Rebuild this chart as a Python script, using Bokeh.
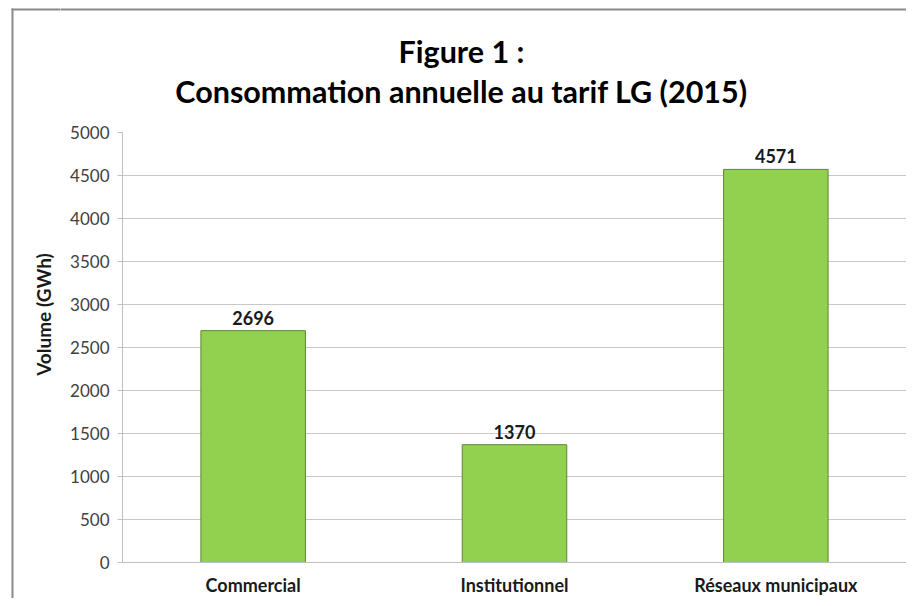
import math
from bokeh.plotting import figure
from bokeh.layouts import row, column
from bokeh.models import ColumnDataSource, Range1d, FactorRange
from bokeh.core.properties import value
from bokeh.embed import file_html
from bokeh.resources import INLINE

categories = ["Commercial", "Institutionnel", "Réseaux municipaux"]
volumes = [2696, 1370, 4571]
y_ticks = [0, 500, 1000, 1500, 2000, 2500, 3000, 3500, 4000, 4500, 5000]
title_line1 = "Figure 1 :"
title_line2 = "Consommation annuelle au tarif LG (2015)"
y_label = "Volume (GWh)"

FONT = "Lato"
BORDER = "#8a8a8a"

TOTAL_W, TOTAL_H = 906, 598
LEFT_W = 60          # width of the strip holding the y-axis title
HEAD_H = 120         # height of the strip holding the chart title
FL, FT, FB = 122, 132, 563   # plot frame left / top / bottom (page px)


def blank(w, h):
    f = figure(width=w, height=h, x_range=Range1d(0, w), y_range=Range1d(h, 0),
               output_backend="svg", toolbar_location=None, title=None,
               x_axis_location=None, y_axis_location=None, frame_align=False,
               min_border_left=0, min_border_right=0, min_border_top=0, min_border_bottom=0)
    f.outline_line_color = None
    f.xgrid.visible = False
    f.ygrid.visible = False
    f.background_fill_color = "white"
    f.border_fill_color = "white"
    return f


# ---- left strip: y-axis title + left edge of the chart border
left = blank(LEFT_W, TOTAL_H)
left.segment(x0=[12, 11], y0=[8, 9], x1=[12, LEFT_W + 10], y1=[TOTAL_H + 10, 9],
             line_color=BORDER, line_width=2)
left.text(x=[43], y=[314], text=[y_label], angle=math.pi / 2,
          text_font=value(FONT), text_font_style="bold", text_font_size="19px",
          text_color="#1a1a1a", text_align="center", text_baseline="middle")

# ---- head strip: chart title + top edge of border
HW = TOTAL_W - LEFT_W
head = blank(HW, HEAD_H)
head.segment(x0=[-10], y0=[9], x1=[HW + 10], y1=[9], line_color=BORDER, line_width=2)
cx = 461 - LEFT_W
head.text(x=[cx, cx], y=[50, 90], text=[title_line1, title_line2],
          text_font=value(FONT), text_font_style="bold", text_font_size="30.5px",
          text_color="#000000", text_align="center", text_baseline="middle")

# ---- the chart
CH = TOTAL_H - HEAD_H
src = ColumnDataSource(dict(cat=categories, vol=volumes, lab=[str(v) for v in volumes]))

p = figure(
    width=HW, height=CH,
    x_range=FactorRange(*categories, range_padding=0),
    y_range=Range1d(0, 5000),
    output_backend="svg", toolbar_location=None, title=None, frame_align=False,
    min_border_left=FL - LEFT_W, min_border_right=0,
    min_border_top=FT - HEAD_H, min_border_bottom=TOTAL_H - FB,
)
p.outline_line_color = None
p.background_fill_color = "white"
p.border_fill_color = "white"

p.vbar(x="cat", top="vol", width=0.4, source=src,
       fill_color="#92D050", line_color="#5f8538", line_width=1)

p.text(x="cat", y="vol", text="lab", source=src,
       text_font=value(FONT), text_font_style="bold", text_font_size="18px",
       text_color="#1a1a1a", text_align="center", text_baseline="middle", y_offset=-13)

p.yaxis.ticker = y_ticks
p.yaxis.axis_line_color = "#bfbfbf"
p.yaxis.major_tick_line_color = "#bfbfbf"
p.yaxis.major_tick_out = 5
p.yaxis.major_tick_in = 0
p.yaxis.minor_tick_line_color = None
p.yaxis.major_label_text_font = FONT
p.yaxis.major_label_text_font_size = "17px"
p.yaxis.major_label_text_color = "#404040"
p.yaxis.major_label_standoff = 8

p.xaxis.axis_line_color = "#bfbfbf"
p.xaxis.major_tick_line_color = None
p.xaxis.major_tick_out = 0
p.xaxis.major_tick_in = 0
p.xaxis.minor_tick_line_color = None
p.xaxis.minor_tick_out = 0
p.xaxis.major_label_text_font = FONT
p.xaxis.major_label_text_font_style = "bold"
p.xaxis.major_label_text_font_size = "18px"
p.xaxis.major_label_text_color = "#1a1a1a"
p.xaxis.major_label_standoff = 11

p.xgrid.grid_line_color = None
p.ygrid.grid_line_color = "#c8c8c8"
p.ygrid.grid_line_width = 1

layout = row(left, column(head, p, spacing=0), spacing=0)

open("out.html", "w").write(file_html(layout, INLINE))
